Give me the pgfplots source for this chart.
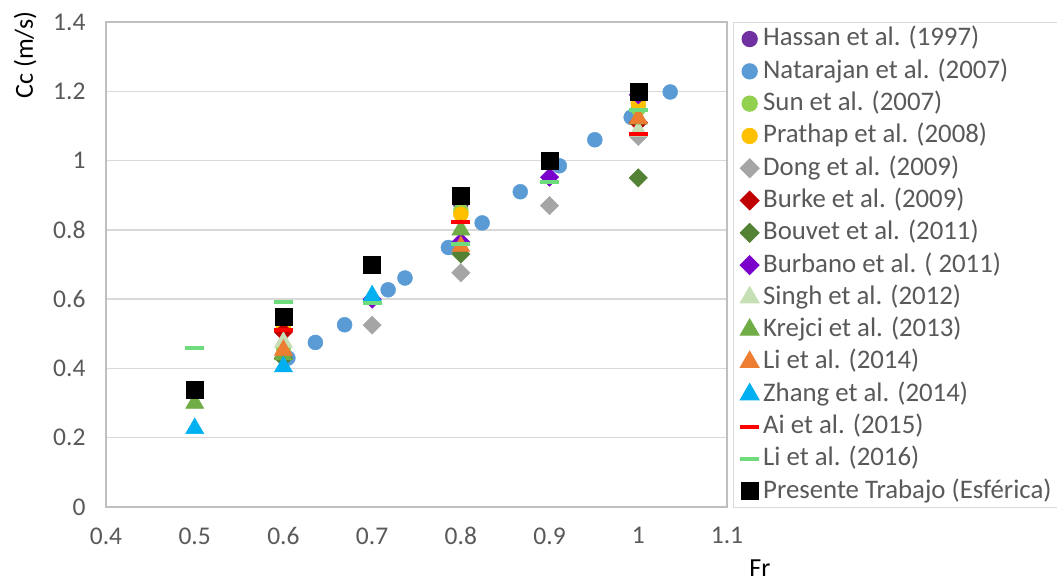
\documentclass[border=0pt]{standalone}
\usepackage{pgfplots}
\pgfplotsset{compat=1.18}
\usepackage{fontspec}
\setmainfont{Carlito}

\definecolor{gridgray}{HTML}{D9D9D9}
\definecolor{axgray}{HTML}{BFBFBF}
\definecolor{labgray}{HTML}{595959}
\definecolor{cHassan}{HTML}{7030A0}
\definecolor{cNatarajan}{HTML}{5B9BD5}
\definecolor{cSun}{HTML}{92D050}
\definecolor{cPrathap}{HTML}{FFC000}
\definecolor{cDong}{HTML}{A5A5A5}
\definecolor{cBurke}{HTML}{C00000}
\definecolor{cBouvet}{HTML}{548235}
\definecolor{cBurbano}{HTML}{7B00CC}
\definecolor{cSingh}{HTML}{C5E0B4}
\definecolor{cKrejci}{HTML}{70AD47}
\definecolor{cLiA}{HTML}{ED7D31}
\definecolor{cZhang}{HTML}{00B0F0}
\definecolor{cAi}{HTML}{FF0000}
\definecolor{cLiB}{HTML}{6EDC7C}

\pgfplotsset{
  circ/.style={only marks, mark=*, mark size=7.5bp, color=#1, mark options={fill=#1, draw=#1}},
  diam/.style={only marks, mark=square*, mark size=6.5bp, color=#1, mark options={fill=#1, draw=#1, rotate=45}},
  tri/.style={only marks, mark=triangle*, mark size=10.5bp, color=#1, mark options={fill=#1, draw=#1}},
  dash/.style={only marks, mark=-, mark size=9.5bp, color=#1, mark options={draw=#1, line width=4bp}},
  sq/.style={only marks, mark=square*, mark size=8.5bp, color=#1, mark options={fill=#1, draw=#1}},
}

\begin{document}
\begin{tikzpicture}
\useasboundingbox (0,0) rectangle (1057bp,581bp);
\begin{axis}[
  at={(106bp,74bp)}, anchor=south west,
  width=621bp, height=485bp, scale only axis,
  xmin=0.4, xmax=1.1, ymin=0, ymax=1.4,
  xtick={0.4,0.5,0.6,0.7,0.8,0.9,1,1.1},
  ytick={0,0.2,0.4,0.6,0.8,1,1.2,1.4},
  ymajorgrids,
  grid style={draw=gridgray, line width=1.3bp},
  axis line style={draw=axgray, line width=1.3bp},
  major tick length=0pt,
  /pgf/number format/assume math mode=true,
  tick label style={font=\fontsize{25.5bp}{30bp}\selectfont, text=labgray},
  yticklabel style={xshift=-17bp},
  xticklabel style={yshift=-17bp},
  xlabel={Fr}, ylabel={Cc (m/s)},
  label style={font=\fontsize{26bp}{30bp}\selectfont, text=black},
  xlabel style={at={(axis description cs:1.053,-0.126)}, anchor=center},
  ylabel style={at={(axis description cs:-0.130,0.932)}, anchor=center},
  legend image code/.code={\draw[mark repeat=2,mark phase=2,#1] plot coordinates {(0bp,0bp)(8bp,0bp)(16bp,0bp)};},
  legend cell align=left,
  legend style={
    at={(axis description cs:1.0097,1)}, anchor=north west,
    draw=gridgray, line width=1.3bp, fill=white,
    inner xsep=6.5bp, inner ysep=0.25bp,
    row sep=0bp, column sep=1bp,
    font=\fontsize{26.8bp}{30bp}\selectfont, text=labgray,
    nodes={inner sep=3bp, text height=20bp, text depth=6.3bp},
  },
]
% Hassan et al. (1997)
\addplot[circ=cHassan] coordinates {(0.8,0.875) (1.0,1.19)};
\addlegendentry{Hassan et al. (1997)}
% Natarajan et al. (2007)
\addplot[circ=cNatarajan] coordinates {
  (0.605,0.43) (0.636,0.475) (0.669,0.526) (0.718,0.627) (0.737,0.661)
  (0.786,0.749) (0.824,0.82) (0.867,0.91) (0.911,0.985) (0.951,1.06)
  (0.992,1.125) (1.036,1.198)};
\addlegendentry{Natarajan et al. (2007)}
% Sun et al. (2007)
\addplot[circ=cSun] coordinates {(0.6,0.46) (0.8,0.855) (1.0,1.15)};
\addlegendentry{Sun et al. (2007)}
% Prathap et al. (2008)
\addplot[circ=cPrathap] coordinates {(0.6,0.515) (0.8,0.845) (1.0,1.165)};
\addlegendentry{Prathap et al. (2008)}
% Dong et al. (2009)
\addplot[diam=cDong] coordinates {(0.7,0.525) (0.8,0.676) (0.9,0.87) (1.0,1.07)};
\addlegendentry{Dong et al. (2009)}
% Burke et al. (2009)
\addplot[diam=cBurke] coordinates {(0.6,0.505) (1.0,1.11)};
\addlegendentry{Burke et al. (2009)}
% Bouvet et al. (2011)
\addplot[diam=cBouvet] coordinates {(0.6,0.43) (0.8,0.73) (1.0,0.95)};
\addlegendentry{Bouvet et al. (2011)}
% Burbano et al. (2011)
\addplot[diam=cBurbano] coordinates {(0.7,0.60) (0.8,0.765) (0.9,0.952) (1.0,1.19)};
\addlegendentry{Burbano et al. ( 2011)}
% Singh et al. (2012)
\addplot[tri=cSingh] coordinates {(0.6,0.476) (1.0,1.085)};
\addlegendentry{Singh et al. (2012)}
% Krejci et al. (2013)
\addplot[tri=cKrejci] coordinates {(0.5,0.30) (0.6,0.44) (0.8,0.80) (1.0,1.12)};
\addlegendentry{Krejci et al. (2013)}
% Li et al. (2014)
\addplot[tri=cLiA] coordinates {(0.6,0.453) (0.8,0.752) (1.0,1.122)};
\addlegendentry{Li et al. (2014)}
% Zhang et al. (2014)
\addplot[tri=cZhang] coordinates {(0.5,0.227) (0.6,0.405) (0.7,0.61)};
\addlegendentry{Zhang et al. (2014)}
% Ai et al. (2015)
\addplot[dash=cAi] coordinates {(0.6,0.51) (0.8,0.824) (1.0,1.078)};
\addlegendentry{Ai et al. (2015)}
% Li et al. (2016)
\addplot[dash=cLiB] coordinates {(0.5,0.459) (0.6,0.592) (0.7,0.59) (0.8,0.76) (0.9,0.938) (1.0,1.145)};
\addlegendentry{Li et al. (2016)}
% Presente Trabajo (Esférica)
\addplot[sq=black] coordinates {(0.5,0.34) (0.6,0.55) (0.7,0.70) (0.8,0.90) (0.9,1.0) (1.0,1.2)};
\addlegendentry{Presente Trabajo (Esférica)}
\end{axis}
\end{tikzpicture}
\end{document}
